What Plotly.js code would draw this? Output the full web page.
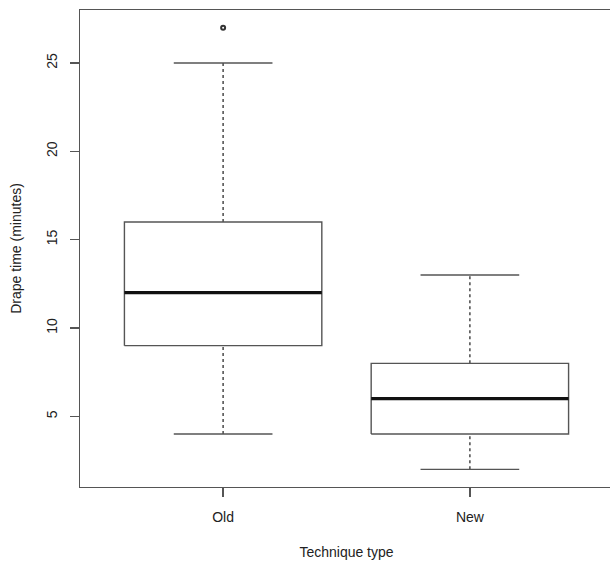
<!DOCTYPE html>
<html>
<head>
<meta charset="utf-8">
<script src="https://cdn.plot.ly/plotly-3.0.1.min.js"></script>
<style>html,body{margin:0;padding:0;overflow:hidden;background:#fff;}</style>
</head>
<body>
<div id="chart" style="width:620px;height:565px;"></div>
<script>
// Data
const categories = ["Old", "New"];
const lowerWhisker = [4, 2];
const q1 = [9, 4];
const median = [12, 6];
const q3 = [16, 8];
const upperWhisker = [25, 13];
const outliers = [[27], []];
const yTicks = [5, 10, 15, 20, 25];

const HALF = 0.4;   // half box width (R default width 0.8)
const STAPLE = 0.2; // half staple width
const lineCol = "#555";

const xs = categories.map((c, i) => i + 1);

function seg(builder) {
  const x = [], y = [];
  xs.forEach((p, i) => {
    const s = builder(p, i);
    s.forEach(part => { x.push(...part.x, null); y.push(...part.y, null); });
  });
  return {x, y};
}

const boxes = seg((p, i) => [{x: [p - HALF, p + HALF, p + HALF, p - HALF, p - HALF], y: [q1[i], q1[i], q3[i], q3[i], q1[i]]}]);
const meds = seg((p, i) => [{x: [p - HALF, p + HALF], y: [median[i], median[i]]}]);
const whisk = seg((p, i) => [{x: [p, p], y: [q3[i], upperWhisker[i]]}, {x: [p, p], y: [lowerWhisker[i], q1[i]]}]);
const staples = seg((p, i) => [{x: [p - STAPLE, p + STAPLE], y: [upperWhisker[i], upperWhisker[i]]}, {x: [p - STAPLE, p + STAPLE], y: [lowerWhisker[i], lowerWhisker[i]]}]);
const outX = [], outY = [];
xs.forEach((p, i) => outliers[i].forEach(v => { outX.push(p); outY.push(v); }));

const traces = [
  {type: "scatter", mode: "lines", x: whisk.x, y: whisk.y, line: {color: lineCol, width: 1.6, dash: "dot"}, connectgaps: false},
  {type: "scatter", mode: "lines", x: staples.x, y: staples.y, line: {color: lineCol, width: 1.4}, connectgaps: false},
  {type: "scatter", mode: "lines", x: boxes.x, y: boxes.y, line: {color: lineCol, width: 1.4}, connectgaps: false},
  {type: "scatter", mode: "lines", x: meds.x, y: meds.y, line: {color: "#111", width: 3.2}, connectgaps: false},
  {type: "scatter", mode: "markers", x: outX, y: outY, marker: {symbol: "circle-open", size: 4, color: "#333", line: {width: 2, color: "#333"}}}
];

const font = {family: "Liberation Sans, Arial, sans-serif", size: 14, color: "#222"};

const layout = {
  width: 620, height: 565,
  margin: {l: 80, r: 7, t: 10, b: 78},
  paper_bgcolor: "#fff", plot_bgcolor: "#fff",
  showlegend: false, hovermode: false,
  font: font,
  xaxis: {
    range: [0.42, 2.58], tickvals: xs, ticktext: categories,
    showgrid: false, zeroline: false,
    showline: true, mirror: true, linecolor: lineCol, linewidth: 1.4,
    ticks: "outside", ticklen: 9, tickcolor: lineCol, tickwidth: 1.4,
    ticklabelstandoff: 8,
    title: {text: "Technique type", font: font, standoff: 23}
  },
  yaxis: {
    range: [1, 28], tickvals: yTicks, ticktext: yTicks.map(String),
    showgrid: false, zeroline: false,
    showline: true, mirror: true, linecolor: lineCol, linewidth: 1.4,
    ticks: "outside", ticklen: 9, tickcolor: lineCol, tickwidth: 1.4,
    tickangle: -90, ticklabelstandoff: 7,
    title: {text: "Drape time (minutes)", font: font, standoff: 19}
  }
};

Plotly.newPlot("chart", traces, layout, {staticPlot: true, displayModeBar: false});
</script>
</body>
</html>
